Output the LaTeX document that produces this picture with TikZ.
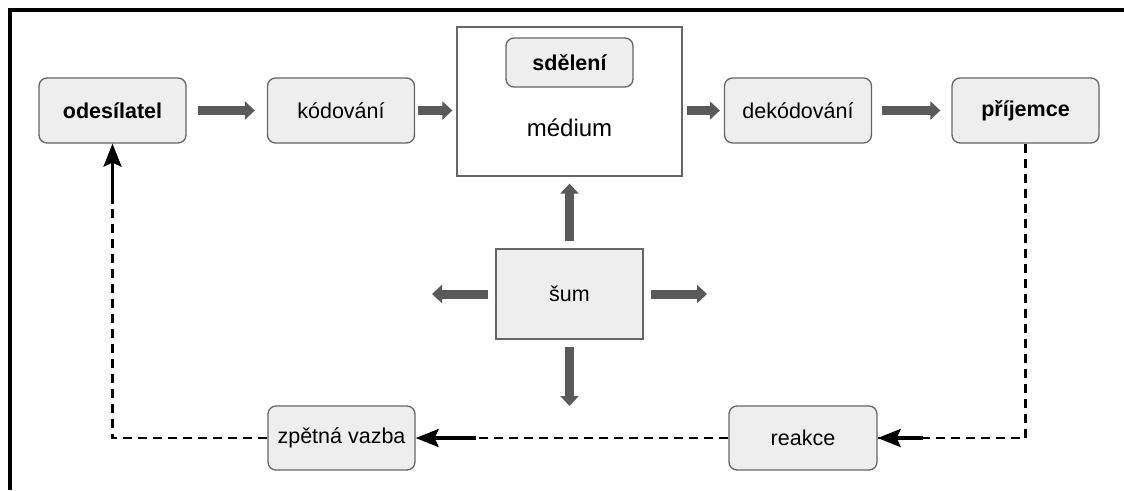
\documentclass[tikz,border=0pt]{standalone}
\usepackage{fontspec}
\setmainfont{Liberation Sans}
\usepackage{tikz}
\usetikzlibrary{arrows.meta}

\definecolor{boxfill}{HTML}{EEEEEE}
\definecolor{boxline}{HTML}{666666}
\definecolor{blockarrow}{HTML}{5A5A5A}

\begin{document}
\begin{tikzpicture}[x=1pt,y=-1pt,
  every node/.style={font=\fontsize{21.5}{26}\selectfont},
  roundbox/.style={draw=boxline,fill=boxfill,line width=1.3pt,rounded corners=8pt,
    minimum width=147pt,minimum height=65pt,inner sep=0pt},
  plainbox/.style={draw=boxline,line width=1.3pt,inner sep=0pt},
  flow/.style={-{Triangle[length=10pt,width=18pt]},line width=9pt,draw=blockarrow},
  fbline/.style={line width=2.8pt,dash pattern=on 9pt off 6pt},
  fbarrow/.style={-{Stealth[length=23pt,width=18pt,inset=4pt]},line width=3.2pt}]
\useasboundingbox (0,0) rectangle (1124,490);

\draw[line width=3.5pt] (1124,10) -- (10,10) -- (10,490);

\node[roundbox,font=\fontsize{21.5}{26}\selectfont\bfseries] (odesilatel) at (112.5,110.5) {odesílatel};
\node[roundbox] (kodovani) at (341,110.5) {kódování};
\node[plainbox,minimum width=225pt,minimum height=149pt] (medium) at (569.5,101.5) {};
\node[font=\fontsize{24}{28}\selectfont] (mediumlabel) at (569.5,128) {médium};
\node[roundbox,minimum width=127pt,minimum height=49pt,font=\fontsize{21.5}{26}\selectfont\bfseries] (sdeleni) at (569.5,62.5) {sdělení};
\node[roundbox] (dekodovani) at (798,110.5) {dekódování};
\node[roundbox,font=\fontsize{21.5}{26}\selectfont\bfseries] (prijemce) at (1025.5,110.5) {příjemce};

\node[plainbox,fill=boxfill,minimum width=147pt,minimum height=90pt] (sum) at (569.5,294) {šum};

\node[roundbox,minimum height=64pt] (zpetna) at (341.5,438) {zpětná vazba};
\node[roundbox,minimum width=148pt,minimum height=64pt] (reakce) at (803,438) {reakce};

\draw[flow,shorten <=11pt,shorten >=12pt] (odesilatel.east) -- (kodovani.west);
\draw[flow,shorten <=3pt,shorten >=4pt] (kodovani.east) -- (kodovani.east -| medium.west);
\draw[flow,shorten <=4pt,shorten >=4pt] (medium.east |- dekodovani.west) -- (dekodovani.west);
\draw[flow,shorten <=10pt,shorten >=11pt] (dekodovani.east) -- (prijemce.west);

\coordinate (noiseleft) at (432,294);
\coordinate (noiseright) at (707,294);
\coordinate (noisedown) at (569.5,406);
\draw[flow,shorten <=7pt,shorten >=7pt] (sum.north) -- (medium.south);
\draw[flow,shorten <=7pt] (sum.west) -- (noiseleft);
\draw[flow,shorten <=7pt] (sum.east) -- (noiseright);
\draw[flow,shorten <=7pt] (sum.south) -- (noisedown);

\draw[fbline] (prijemce.south) |- (reakce.east);
\draw[fbarrow] ([xshift=45pt]reakce.east) -- (reakce.east);
\draw[fbline] (reakce.west) -- (zpetna.east);
\draw[fbarrow] ([xshift=60pt]zpetna.east) -- (zpetna.east);
\draw[fbline] (zpetna.west) -| (odesilatel.south);
\draw[fbarrow] ([yshift=-60pt]odesilatel.south) -- (odesilatel.south);
\end{tikzpicture}
\end{document}
